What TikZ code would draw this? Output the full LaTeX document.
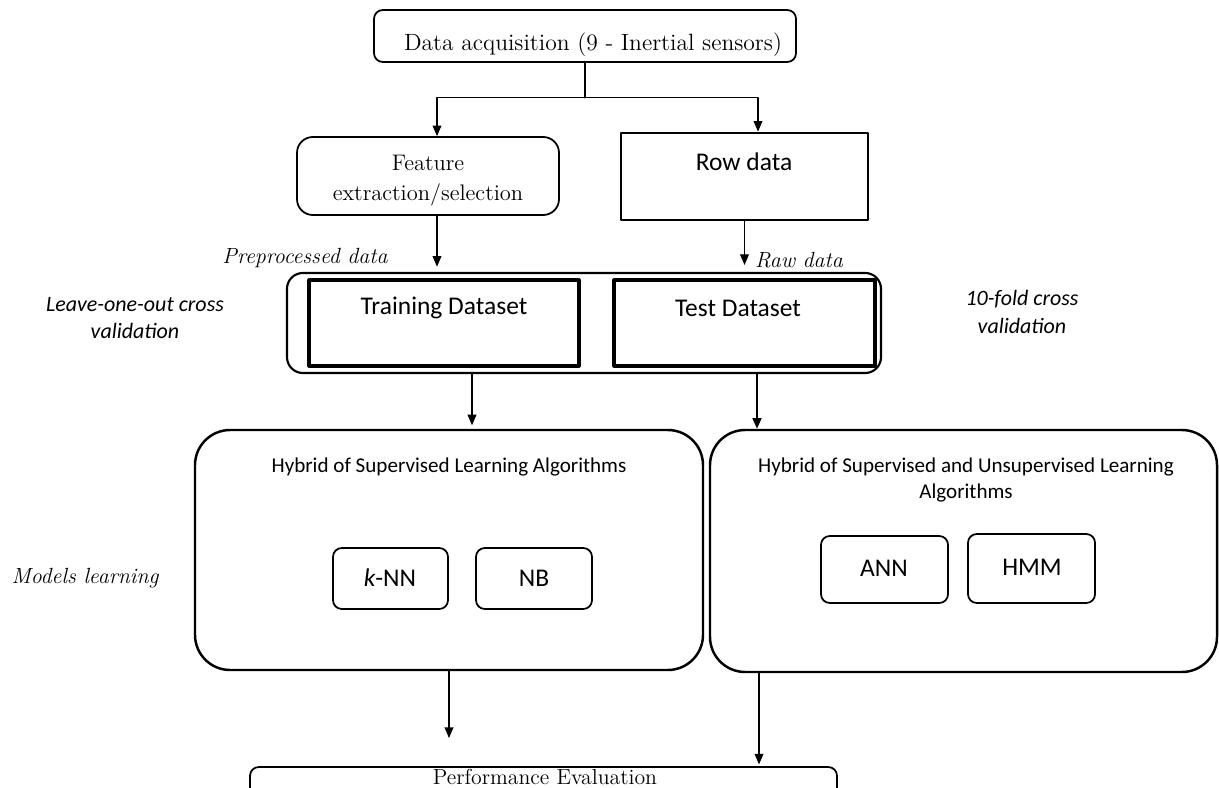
\documentclass[tikz,border=0pt]{standalone}
\usepackage{fontspec}
\newfontfamily\calibri{Carlito}
\usetikzlibrary{arrows.meta,fit}

\begin{document}
\begin{tikzpicture}[x=0.02cm,y=-0.02cm,line cap=round,line join=round,
    frame/.style={draw,line width=1pt,inner sep=0pt},
    serif/.style={font=\fontsize{12.8}{17}\selectfont,inner sep=0pt,align=center},
    serifit/.style={font=\fontsize{12.5}{15}\selectfont\itshape,inner sep=0pt},
    sans/.style={font=\calibri\fontsize{14.5}{17}\selectfont,inner sep=0pt},
    sanssmall/.style={font=\calibri\fontsize{12}{15.3}\selectfont,inner sep=0pt,align=center},
    sansit/.style={font=\calibri\itshape\fontsize{12.5}{15.5}\selectfont,inner sep=0pt,align=center},
    arr/.style={-{Triangle[length=6pt,width=5pt]},line width=0.6pt}]
  \useasboundingbox (0,0) rectangle (1219,787);

  % Acquisition and the two branches.
  \node[frame,rounded corners=5pt,fit={(374,10)(796,62)}] (acq) {};
  \node[serif,font=\fontsize{13.4}{17}\selectfont] (acqtxt) at (593,45) {Data acquisition (9 - Inertial sensors)};
  \node[frame,rounded corners=9pt,fit={(297,137)(559,215)}] (feat) {};
  \node[serif] (feattxt) at (428,181) {Feature\\extraction/selection};
  \node[frame,line width=1.6pt,fit={(621,133)(868,220)}] (row) {};
  \node[sans] (rowtxt) at (744,162) {Row data};

  \coordinate (lcol) at (437,0);
  \coordinate (rcol) at (758,0);
  \draw[line width=0.6pt] (acq.south) -- ++(0,35) coordinate (split);
  \draw[arr] (split) -| (feat.north -| lcol);
  \draw[arr] (split) -| (row.north -| rcol);

  % Datasets.
  \node[frame,line width=1.2pt,rounded corners=9pt,fit={(287,273)(881,373)}] (data) {};
  \node[frame,line width=1.8pt,fit={(309,280)(579,366)}] (train) {};
  \node[sans] (traintxt) at (444,308) {Training Dataset};
  \node[frame,line width=1.8pt,fit={(614,280)(875,366)}] (test) {};
  \node[sans] (testtxt) at (738,308) {Test Dataset};
  \node[serifit] (pre) at (305,258) {Preprocessed data};
  \node[serifit] (raw) at (799,260) {Raw data};
  \node[sansit] (loo) at (135,318) {Leave-one-out cross\\validation};
  \node[sansit] (kfold) at (1022,312) {10-fold cross\\validation};

  \draw[arr,shorten >=3pt] (feat.south -| lcol) -- (data.north -| lcol);
  \draw[arr,shorten >=4pt] (row.south) -- (data.north -| row.south);

  % Models learning.
  \node[frame,line width=1.4pt,rounded corners=20pt,fit={(195,430)(703,670)}] (sup) {};
  \node[sanssmall] (suptxt) at (449,467) {Hybrid of Supervised Learning Algorithms};
  \node[frame,rounded corners=5pt,fit={(333,548)(448,609)}] (knn) {};
  \node[sans] (knntxt) at (390,578) {{\itshape k}-NN};
  \node[frame,rounded corners=5pt,fit={(476,548)(592,609)}] (nb) {};
  \node[sans] (nbtxt) at (534,578) {NB};
  \node[frame,line width=1.4pt,rounded corners=20pt,fit={(710,430)(1217,672)}] (unsup) {};
  \node[sanssmall] (unsuptxt) at (966,480) {Hybrid of Supervised and Unsupervised Learning\\Algorithms};
  \node[frame,rounded corners=5pt,fit={(821,536)(948,603)}] (ann) {};
  \node[sans] (anntxt) at (884,568) {ANN};
  \node[frame,rounded corners=5pt,fit={(968,534)(1095,603)}] (hmm) {};
  \node[sans] (hmmtxt) at (1032,567) {HMM};
  \node[serifit] (models) at (85,578) {Models learning};

  \coordinate (tcol) at (472,0);
  \coordinate (ucol) at (757,0);
  \draw[arr,shorten >=2pt] (data.south -| tcol) -- (sup.north -| tcol);
  \draw[arr,line width=1.1pt] (data.south -| ucol) -- (unsup.north -| ucol);

  % Evaluation.
  \node[frame,rounded corners=5pt,fit={(250,767)(837,812)}] (perf) {};
  \node[serif,font=\fontsize{12.4}{15}\selectfont] (perftxt) at (545,777) {Performance Evaluation};
  \coordinate (bcol) at (449,0);
  \coordinate (ccol) at (759,0);
  \draw[arr,shorten >=16pt] (sup.south -| bcol) -- (perf.north -| bcol);
  \draw[arr,shorten >=1pt] (unsup.south -| ccol) -- (perf.north -| ccol);
\end{tikzpicture}
\end{document}
